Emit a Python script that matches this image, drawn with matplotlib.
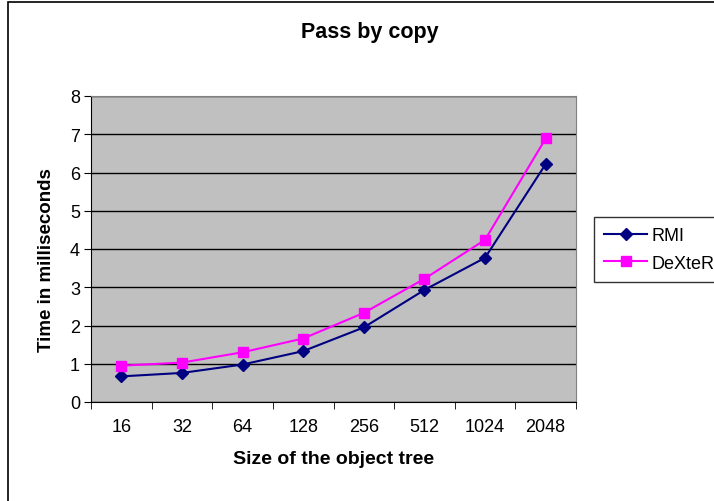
import matplotlib
matplotlib.use("Agg")
import matplotlib.pyplot as plt
from matplotlib.patches import Rectangle

plt.rcParams['font.family'] = ['Liberation Sans', 'DejaVu Sans']

categories = ["16", "32", "64", "128", "256", "512", "1024", "2048"]
rmi = [0.67, 0.76, 0.98, 1.33, 1.95, 2.93, 3.77, 6.22]
dexter = [0.95, 1.03, 1.30, 1.66, 2.33, 3.22, 4.24, 6.89]
yticks = [0, 1, 2, 3, 4, 5, 6, 7, 8]

W, H = 714, 502
fig = plt.figure(figsize=(W / 100, H / 100), dpi=100)

# outer chart border
fig.patches.append(Rectangle((8 / W, -0.1), 1.2, (1 - 3 / H) + 0.1, transform=fig.transFigure,
                             fill=False, edgecolor="black", linewidth=1.2))

ax = fig.add_axes([91 / W, 1 - 403 / H, (576 - 91) / W, (403 - 97) / H])
ax.set_facecolor("#C0C0C0")
x = list(range(len(categories)))
ax.plot(x, rmi, color="#000080", marker="D", markersize=6.5, linewidth=1.5, label="RMI")
ax.plot(x, dexter, color="#FF00FF", marker="s", markersize=7, linewidth=1.5, label="DeXteR")

ax.set_xlim(-0.5, len(categories) - 0.5)
ax.set_ylim(0, 8)
ax.set_yticks(yticks)
ax.yaxis.grid(True, color="black", linewidth=1)
ax.set_axisbelow(True)

ax.set_xticks(x)
ax.set_xticklabels(categories)
ax.set_xticks([i - 0.5 for i in range(len(categories) + 1)], minor=True)
ax.tick_params(axis="x", which="major", length=0, pad=11.5, labelsize=13)
ax.tick_params(axis="x", which="minor", length=5, direction="out", color="black")
ax.tick_params(axis="y", length=5, direction="out", labelsize=13, pad=3)

for s in ["top", "right"]:
    ax.spines[s].set_color("#808080")
for s in ["left", "bottom"]:
    ax.spines[s].set_color("black")

ax.set_xlabel("Size of the object tree", fontsize=14, fontweight="bold", labelpad=11)
ax.set_ylabel("Time in milliseconds", fontsize=13.5, fontweight="bold")
ax.yaxis.set_label_coords(-0.074, (403 - 260) / 306)
fig.text(370 / W, 1 - 38 / H, "Pass by copy", ha="center", va="baseline",
         fontsize=15.5, fontweight="bold")

leg = fig.legend(loc="upper left", bbox_to_anchor=(594 / W, 1 - 218 / H), fontsize=13,
                 frameon=True, fancybox=False, edgecolor="black", handlelength=2.4,
                 borderpad=0.55, labelspacing=0.6, handletextpad=0.25, borderaxespad=0)
leg.get_frame().set_linewidth(1)

fig.savefig("out.png", dpi=100)
